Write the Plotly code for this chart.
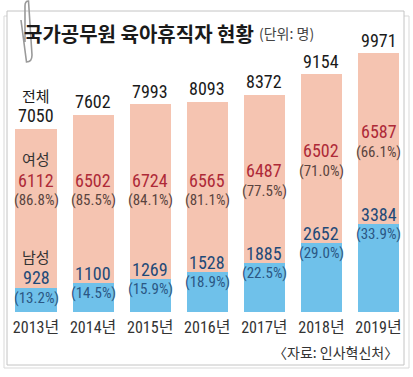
import plotly.graph_objects as go

years = ["2013년", "2014년", "2015년", "2016년", "2017년", "2018년", "2019년"]
total = [7050, 7602, 7993, 8093, 8372, 9154, 9971]
female = [6112, 6502, 6724, 6565, 6487, 6502, 6587]
female_pct = ["86.8%", "85.5%", "84.1%", "81.1%", "77.5%", "71.0%", "66.1%"]
male = [928, 1100, 1269, 1528, 1885, 2652, 3384]
male_pct = ["13.2%", "14.5%", "15.9%", "18.9%", "22.5%", "29.0%", "33.9%"]

W, H = 413, 377
NUM = "Liberation Sans Narrow, Roboto Condensed, Arial Narrow, Noto Sans CJK KR, sans-serif"
KR = "Noto Sans CJK KR, sans-serif"

PINK = "#f5c4b1"
BLUE = "#6fc1ea"

fig = go.Figure()
fig.add_trace(go.Bar(x=years, y=male, marker=dict(color=BLUE, line=dict(width=0)),
                     width=0.72, hoverinfo="skip"))
fig.add_trace(go.Bar(x=years, y=female, marker=dict(color=PINK, line=dict(width=0)),
                     width=0.72, hoverinfo="skip"))

def px(x, y):
    return x / W, 1 - y / H

shapes = []
# back sheet
x0, y0 = px(4, 16); x1, y1 = px(409, 368)
shapes.append(dict(type="rect", xref="paper", yref="paper", x0=x0, y0=y1, x1=x1, y1=y0,
                   line=dict(color="#d9d9d9", width=1), fillcolor="white", layer="below"))
x0, y0 = px(7, 11); x1, y1 = px(404, 365)
shapes.append(dict(type="rect", xref="paper", yref="paper", x0=x0, y0=y1, x1=x1, y1=y0,
                   line=dict(color="#c4c4c4", width=1), fillcolor="white", layer="below"))

# paper clip
clip_pts = [("M", 25, 42), ("L", 25, 6), ("Q", 25, 1, 28.5, 1), ("", 32, 1, 32, 6),
            ("L", 32, 55), ("Q", 32, 62, 26.5, 62), ("", 21, 62, 21, 55), ("L", 21, 20)]
path = ""
for p in clip_pts:
    cmd = p[0]
    coords = p[1:]
    parts = []
    for i in range(0, len(coords), 2):
        a, b = px(coords[i], coords[i + 1])
        parts.append(f"{a:.4f},{b:.4f}")
    path += (cmd + " " if cmd else " ") + " ".join(parts) + " "
shapes.append(dict(type="path", xref="paper", yref="paper", path=path.strip(),
                   line=dict(color="#9a9a9a", width=1.6), layer="above"))

ann = []
tx, ty = px(22, 33)
ann.append(dict(xref="paper", yref="paper", x=tx, y=ty, xanchor="left", yanchor="middle",
                text="<b>국가공무원 육아휴직자 현황</b>", showarrow=False,
                font=dict(family=KR, size=20, color="#1a1a1a")))
tx, ty = px(257, 33)
ann.append(dict(xref="paper", yref="paper", x=tx, y=ty, xanchor="left", yanchor="middle",
                text="(단위: 명)", showarrow=False,
                font=dict(family=KR, size=14, color="#444444")))
tx, ty = px(400, 352)
ann.append(dict(xref="paper", yref="paper", x=tx, y=ty, xanchor="right", yanchor="middle",
                text="〈자료: 인사혁신처〉", showarrow=False,
                font=dict(family=KR, size=14, color="#333333")))

for i, yr in enumerate(years):
    ann.append(dict(x=yr, y=total[i], yshift=13, text=str(total[i]), showarrow=False,
                    yanchor="middle", font=dict(family=NUM, size=18, color="#1a1a1a")))
    fy = max(5077, male[i] + 3550)
    ann.append(dict(x=yr, y=fy, text=str(female[i]), showarrow=False, yanchor="middle",
                    font=dict(family=NUM, size=18, color="#ae2a38")))
    ann.append(dict(x=yr, y=fy, yshift=-20, text=f"({female_pct[i]})", showarrow=False,
                    yanchor="middle", font=dict(family=NUM, size=15, color="#5a4440")))
    ann.append(dict(x=yr, y=male[i], yshift=10, text=str(male[i]), showarrow=False,
                    yanchor="middle", font=dict(family=NUM, size=18, color="#1f4a78")))
    ann.append(dict(x=yr, y=male[i], yshift=-10, text=f"({male_pct[i]})", showarrow=False,
                    yanchor="middle", font=dict(family=NUM, size=15, color="#2b5784")))

ann.append(dict(x=years[0], y=total[0], yshift=33, text="전체", showarrow=False,
                yanchor="middle", font=dict(family=KR, size=15, color="#1a1a1a")))
ann.append(dict(x=years[0], y=5077, yshift=22, text="여성", showarrow=False,
                yanchor="middle", font=dict(family=KR, size=15, color="#333333")))
ann.append(dict(x=years[0], y=male[0], yshift=31, text="남성", showarrow=False,
                yanchor="middle", font=dict(family=KR, size=15, color="#333333")))

fig.update_layout(
    width=W, height=H, margin=dict(l=0, r=0, t=0, b=0),
    paper_bgcolor="white", plot_bgcolor="rgba(0,0,0,0)",
    barmode="stack", showlegend=False, bargap=0,
    shapes=shapes, annotations=ann,
    xaxis=dict(range=[-0.631, 6.604], anchor="free", position=1 - 312 / H,
               showline=False, showgrid=False, zeroline=False, ticks="",
               ticklabelstandoff=4,
               tickfont=dict(family=NUM, size=16, color="#333333"), fixedrange=True),
    yaxis=dict(range=[-2502, 12012], visible=False, fixedrange=True),
)

fig.write_html("out.html", config={"displayModeBar": False},
               post_script="document.body.style.margin='0';document.body.style.padding='0';")
